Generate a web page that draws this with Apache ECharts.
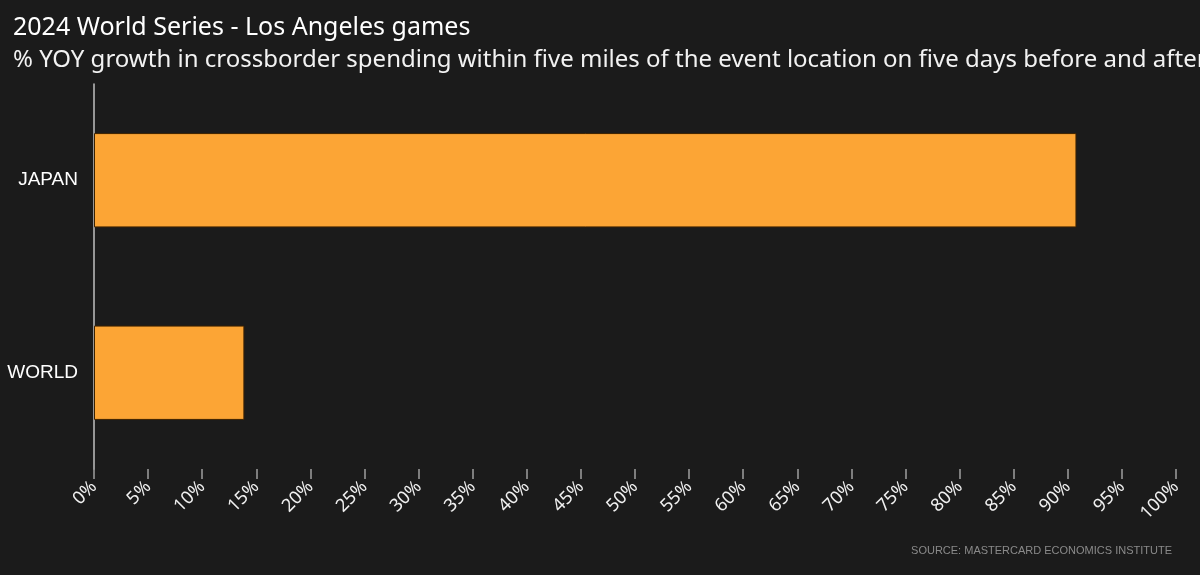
<!DOCTYPE html>
<html>
<head>
<meta charset="utf-8">
<script src="https://cdn.jsdelivr.net/npm/echarts@6/dist/echarts.min.js"></script>
<style>
  html, body { margin: 0; padding: 0; background: #1b1b1b; }
  #main { width: 1200px; height: 575px; }
</style>
</head>
<body>
<div id="main"></div>
<script>
// data
var categories = ['JAPAN', 'WORLD'];
var growth = [90.8, 13.9];
var tickStep = 5;

var myChart = echarts.init(document.getElementById('main'));

var option = {
    backgroundColor: '#1b1b1b',
    animation: false,
    title: [
        {
            text: '2024 World Series - Los Angeles games',
            left: 8,
            top: 10,
            textStyle: { color: '#ffffff', fontSize: 25, fontWeight: 'normal', fontFamily: 'Noto Sans' }
        },
        {
            text: '% YOY growth in crossborder spending within five miles of the event location on five days before and after',
            left: 8,
            top: 43,
            textStyle: { color: '#f2f2f2', fontSize: 24, fontWeight: 'normal', fontFamily: 'Noto Sans' }
        }
    ],
    graphic: [
        {
            type: 'text',
            right: 28,
            top: 545,
            style: {
                text: 'SOURCE: MASTERCARD ECONOMICS INSTITUTE',
                fill: '#8a8a8a',
                fontSize: 11,
                fontFamily: 'Liberation Sans',
                letterSpacing: -0.5
            }
        }
    ],
    grid: { left: 94, right: 24, top: 84, bottom: 106 },
    xAxis: {
        type: 'value',
        min: 0,
        max: 100,
        interval: tickStep,
        axisLine: { show: true, lineStyle: { color: 'rgba(0,0,0,0)' } },
        axisTick: { show: true, length: 10, lineStyle: { color: '#a0a0a0', width: 1.5 } },
        splitLine: { show: false },
        axisLabel: {
            rotate: 45,
            margin: 15,
            color: '#f0f0f0',
            fontSize: 18,
            fontFamily: 'Noto Sans',
            formatter: '{value}%'
        }
    },
    yAxis: {
        type: 'category',
        data: categories,
        inverse: true,
        axisLine: { show: true, lineStyle: { color: '#c0c0c0', width: 1.5 } },
        axisTick: { show: false },
        axisLabel: {
            margin: 16,
            color: '#ffffff',
            fontSize: 19,
            fontFamily: 'Liberation Sans',
            letterSpacing: -1.8
        }
    },
    series: [
        {
            name: 'growth',
            type: 'bar',
            data: growth,
            barCategoryGap: '51%',
            itemStyle: { color: '#fca535', borderColor: '#3d2200', borderWidth: 1 }
        }
    ]
};

myChart.setOption(option);
</script>
</body>
</html>
